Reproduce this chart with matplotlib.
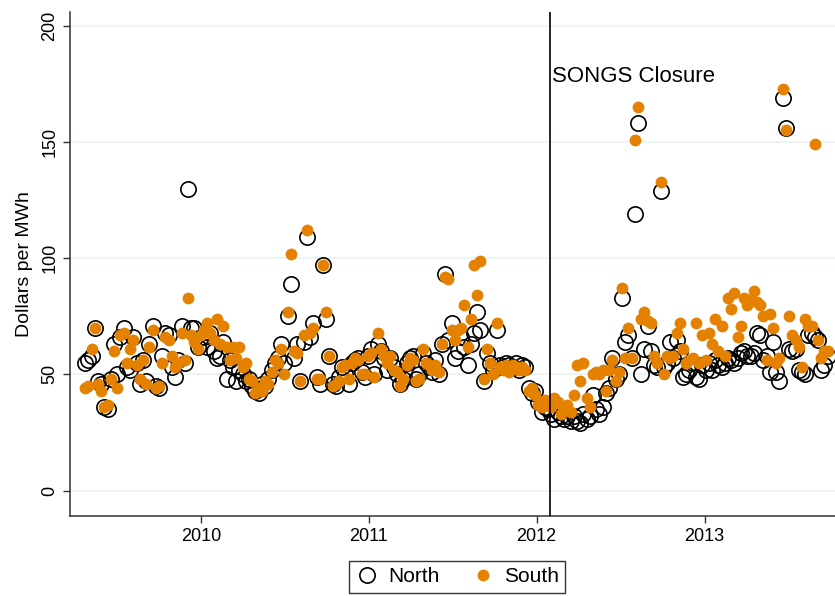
import matplotlib
matplotlib.use("Agg")
import matplotlib.pyplot as plt
import matplotlib.dates as mdates
import pandas as pd

plt.rcParams['font.family'] = ['Liberation Sans', 'DejaVu Sans']

# weekly average prices, dollars per MWh
north = [55, 56, 58, 70, 47, 46, 36, 35, 48, 63, 50, 66, 70, 53, 52, 66, 55, 46, 56, 47,
         63, 71, 45, 44, 58, 68, 67, 53, 49, 56, 71, 55, 130, 70, 70, 62, 66,
         66, 62, 68, 60, 57, 58, 64, 48, 56, 53, 47, 52, 50, 47, 48, 45, 43, 42, 46, 45,
         48, 52, 55, 57, 63, 55,
         75, 89, 57, 63, 47, 64, 109, 66, 72, 49, 46, 97, 74, 58, 46, 45, 49, 53, 50, 46,
         55, 56, 57, 51, 49, 58,
         61, 50, 63, 60, 57, 52, 57, 53, 50, 46, 48, 55, 57, 58, 48, 50, 59, 55, 53, 51,
         56, 50, 63, 93, 65,
         72, 57, 60, 66, 62, 54, 63, 68, 77, 69, 47, 59, 55, 52, 69, 54, 53, 55, 54, 53,
         55, 52, 54, 53, 44, 42, 43, 38, 34, 36, 35,
         33, 31, 34, 32, 31, 32, 30, 32, 30, 29, 33, 31, 32, 41, 35, 33, 36, 42, 44, 57,
         48, 50, 83, 64, 67, 57, 119, 158, 50, 61, 71,
         60, 54, 53, 129, 53, 55, 64, 57, 65, 60, 49, 50, 52, 55, 49, 48, 54, 52, 55, 52,
         56, 54, 53, 55, 57, 56, 55, 57, 59, 60, 58,
         58, 59, 68, 67, 56, 58, 51, 64, 51, 47, 169, 156, 61, 60, 61, 52, 51, 50, 67, 68,
         66, 65, 52, 54, 58]

south = [44, 45, 61, 70, 46, 43, 36, 37, 48, 60, 44, 67, 68, 55, 61, 65, 54, 48, 56, 46,
         62, 69, 44, 45, 55, 66, 65, 58, 53, 55, 68, 56, 83, 67, 64, 61, 67,
         69, 72, 68, 65, 74, 63, 71, 62, 56, 62, 57, 62, 53, 55, 48, 47, 42, 44, 43, 47,
         46, 51, 56, 55, 61, 50,
         77, 102, 60, 59, 47, 67, 112, 68, 70, 48, 48, 97, 77, 58, 45, 46, 47, 53, 54, 48,
         55, 57, 56, 50, 50, 58,
         59, 49, 68, 61, 58, 55, 58, 52, 51, 45, 48, 54, 57, 56, 47, 48, 61, 55, 54, 52,
         54, 51, 63, 92, 91,
         69, 65, 69, 70, 80, 62, 74, 97, 84, 99, 48, 61, 55, 50, 72, 53, 52, 54, 51, 54,
         53, 52, 53, 52, 43, 44, 41, 37, 36, 39, 37,
         36, 40, 38, 33, 35, 37, 34, 41, 54, 47, 55, 40, 36, 50, 51, 50, 52, 43, 52, 56,
         47, 51, 87, 57, 70, 57, 151, 165, 74, 77, 73,
         72, 58, 55, 133, 50, 58, 57, 58, 68, 72, 61, 55, 56, 57, 72, 55, 67, 56, 68, 63,
         74, 60, 71, 58, 83, 78, 85, 66, 71, 83, 80,
         82, 86, 81, 80, 75, 56, 76, 70, 55, 57, 173, 155, 75, 67, 65, 62, 53, 74, 71, 71,
         149, 65, 57, 60, 60]

weeks = pd.date_range('2009-04-23', periods=len(north), freq='7D')
closure = pd.Timestamp('2012-01-31')
yticks = [0, 50, 100, 150, 200]

fig = plt.figure(figsize=(8.35, 5.96), dpi=100)
ax = fig.add_axes([0.0838, 0.134, 0.9162, 0.846])

ax.plot(weeks, north, 'o', mfc='none', mec='black', ms=11, mew=1.2, label='North', zorder=3)
ax.plot(weeks, south, 'o', color='#E58100', mec='#E58100', ms=8.5, mew=0, label='South', zorder=4)

ax.axvline(closure, color='black', lw=1.2, zorder=5)
ax.text(closure + pd.Timedelta(days=3), 178, 'SONGS Closure', fontsize=16, va='center', ha='left')

ax.set_xlim(pd.Timestamp('2009-03-21'), pd.Timestamp('2013-10-12'))
ax.set_ylim(-11, 206)
ax.set_yticks(yticks)
ax.set_yticklabels([str(v) for v in yticks], rotation=90, va='center')
ax.xaxis.set_major_locator(mdates.YearLocator())
ax.xaxis.set_major_formatter(mdates.DateFormatter('%Y'))
ax.tick_params(labelsize=13, length=5, width=1, color='#333333')
ax.set_ylabel('Dollars per MWh', fontsize=14, labelpad=6)

ax.grid(axis='y', color='#eaf2f3', lw=1.2)
ax.set_axisbelow(True)
for s in ['top', 'right']:
    ax.spines[s].set_visible(False)
for s in ['left', 'bottom']:
    ax.spines[s].set_color('#333333')
    ax.spines[s].set_linewidth(1.1)

leg = fig.legend(loc='center', bbox_to_anchor=(457 / 835, 1 - 577 / 596), ncol=2,
                 fontsize=15, frameon=True, fancybox=False, edgecolor='black',
                 handletextpad=0.4, columnspacing=1.5, borderpad=0.3, handlelength=1.2)
leg.get_frame().set_linewidth(1.0)

fig.savefig('out.png', dpi=100)
